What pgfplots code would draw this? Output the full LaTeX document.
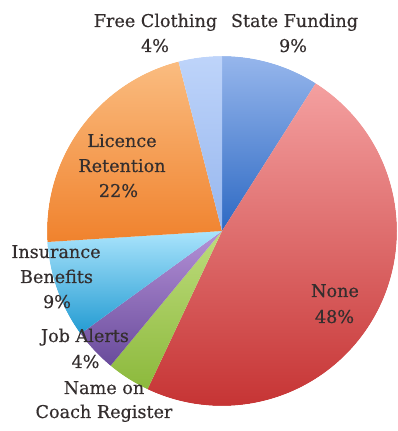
\documentclass[border=0pt]{standalone}
\usepackage{fontspec}
\setmainfont{DejaVu Serif}[FakeBold=0.5]
\usepackage{pgfplots}
\usepackage{pgfplotstable}
\pgfplotsset{compat=1.18}

\definecolor{sfT}{RGB}{150,182,236}
\definecolor{sfB}{RGB}{45,105,195}
\definecolor{noT}{RGB}{244,160,160}
\definecolor{noB}{RGB}{195,45,45}
\definecolor{ncT}{RGB}{190,220,125}
\definecolor{ncB}{RGB}{140,185,60}
\definecolor{jaT}{RGB}{180,145,215}
\definecolor{jaB}{RGB}{105,75,155}
\definecolor{ibT}{RGB}{170,228,252}
\definecolor{ibB}{RGB}{35,155,210}
\definecolor{lrT}{RGB}{250,188,128}
\definecolor{lrB}{RGB}{240,130,45}
\definecolor{fcT}{RGB}{190,212,250}
\definecolor{fcB}{RGB}{150,182,238}
\definecolor{txt}{RGB}{52,46,46}

% value = percent, clockwise from 12 o'clock
\pgfplotstableread{
label value top bottom
StateFunding 9 sfT sfB
None 48 noT noB
NameOnCoachRegister 4 ncT ncB
JobAlerts 4 jaT jaB
InsuranceBenefits 9 ibT ibB
LicenceRetention 22 lrT lrB
FreeClothing 4 fcT fcB
}\piedata

\begin{document}
\begin{tikzpicture}
\begin{axis}[x=1pt,y=1pt,xmin=0,xmax=398,ymin=0,ymax=431,
  hide axis, scale only axis, clip=false]
\path (axis cs:0,0) rectangle (axis cs:398,431);
\pgfplotsextra{
  \xdef\cum{0}
  \foreach \i in {0,...,6}{
    \pgfplotstablegetelem{\i}{value}\of\piedata \let\v\pgfplotsretval
    \pgfplotstablegetelem{\i}{top}\of\piedata \let\ct\pgfplotsretval
    \pgfplotstablegetelem{\i}{bottom}\of\piedata \let\cb\pgfplotsretval
    \pgfmathsetmacro\sa{90-3.6*\cum}
    \pgfmathsetmacro\ea{90-3.6*(\cum+\v)}
    \shade[top color=\ct, bottom color=\cb]
      (axis cs:222,200) -- ++(\sa:175pt)
      arc[start angle=\sa, end angle=\ea, radius=175pt] -- cycle;
    \pgfmathsetmacro\newcum{\cum+\v}
    \xdef\cum{\newcum}
  }
  \draw[white, line width=1.2pt] (axis cs:222,200) circle[radius=175.6pt];
}
\begin{scope}[every node/.style={anchor=base, text=txt, inner sep=0pt,
   font=\fontsize{17.6}{20}\selectfont}]
\node at (axis cs:155.5,404) {Free Clothing};
\node at (axis cs:155,379) {4\%};
\node at (axis cs:294.5,404) {State Funding};
\node at (axis cs:293,379) {9\%};
\node at (axis cs:122,284) {Licence};
\node at (axis cs:122,259) {Retention};
\node at (axis cs:118.5,234) {22\%};
\node at (axis cs:56,173) {Insurance};
\node at (axis cs:56.5,148) {Benefits};
\node at (axis cs:57,123) {9\%};
\node at (axis cs:85,89) {Job Alerts};
\node at (axis cs:85.5,63) {4\%};
\node at (axis cs:104,37) {Name on};
\node at (axis cs:104,13) {Coach Register};
\node at (axis cs:335,134) {None};
\node at (axis cs:334.5,108) {48\%};
\end{scope}
\end{axis}
\pgfresetboundingbox
\path[use as bounding box] (0,0) rectangle (398pt,431pt);
\end{tikzpicture}
\end{document}
